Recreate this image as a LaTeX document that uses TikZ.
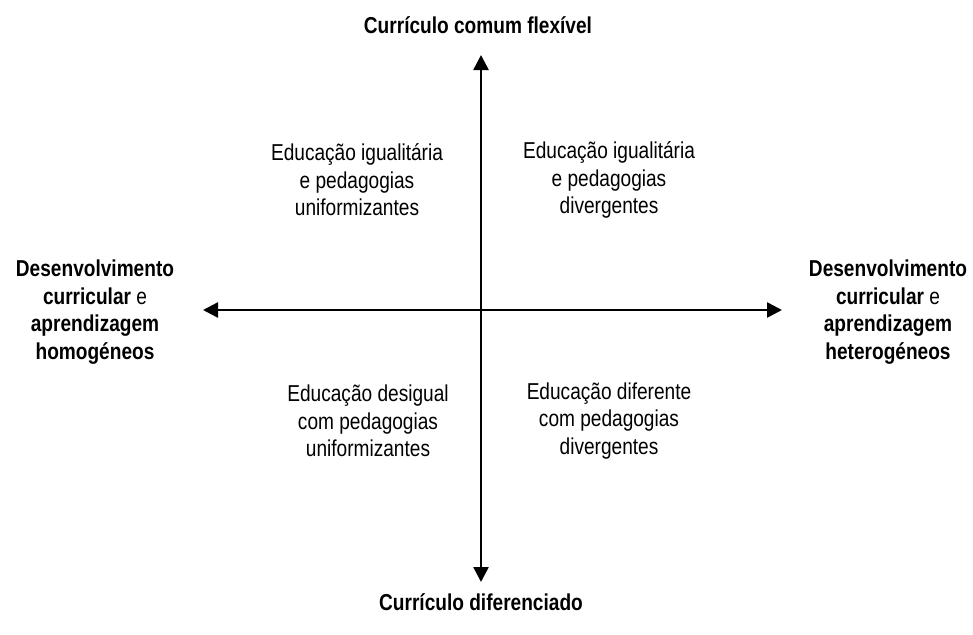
\documentclass[tikz,border=0pt]{standalone}
\usepackage{fontspec}
\setmainfont{Liberation Sans}[FakeStretch=0.83]
\usepackage{tikz}
\usetikzlibrary{arrows.meta}
\usetikzlibrary{positioning}

\begin{document}
\begin{tikzpicture}[x=1pt,y=-1pt,>={Triangle[length=15pt,width=15pt]},
  every node/.style={font=\fontsize{23}{27.5}\selectfont,align=center,inner sep=0pt},
  axislabel/.style={font=\fontsize{23}{27.5}\selectfont\bfseries}]
%Canvas
  \useasboundingbox (0,0) rectangle (973,634);

%Axes
  \coordinate (top) at (481,55);
  \coordinate (bottom) at (481,582);
  \coordinate (left) at (203,310);
  \coordinate (right) at (782,310);
  \draw [<->,line width=2.5pt](top) -- (bottom);
  \draw [<->,line width=2.5pt](left) -- (right);

%Axis labels
  \node[axislabel] (flexivel) at (478,25) {Currículo comum flexível};
  \node[axislabel] (diferenciado) at (481,602) {Currículo diferenciado};
  \node[axislabel] (homogeneos) at (95,312) {Desenvolvimento\\curricular \mdseries e\\aprendizagem\\homogéneos};
  \node[axislabel] (heterogeneos) at (888,312) {Desenvolvimento\\curricular \mdseries e\\aprendizagem\\heterogéneos};

%Quadrants
  \node (igualuniform) at (357,180) {Educação igualitária\\e pedagogias\\uniformizantes};
  \node (igualdiverg) at (609,180) {Educação igualitária\\e pedagogias\\divergentes};
  \node (desigual) at (368,421) {Educação desigual\\com pedagogias\\uniformizantes};
  \node (diferente) at (609,421) {Educação diferente\\com pedagogias\\divergentes};
\end{tikzpicture}
\end{document}
